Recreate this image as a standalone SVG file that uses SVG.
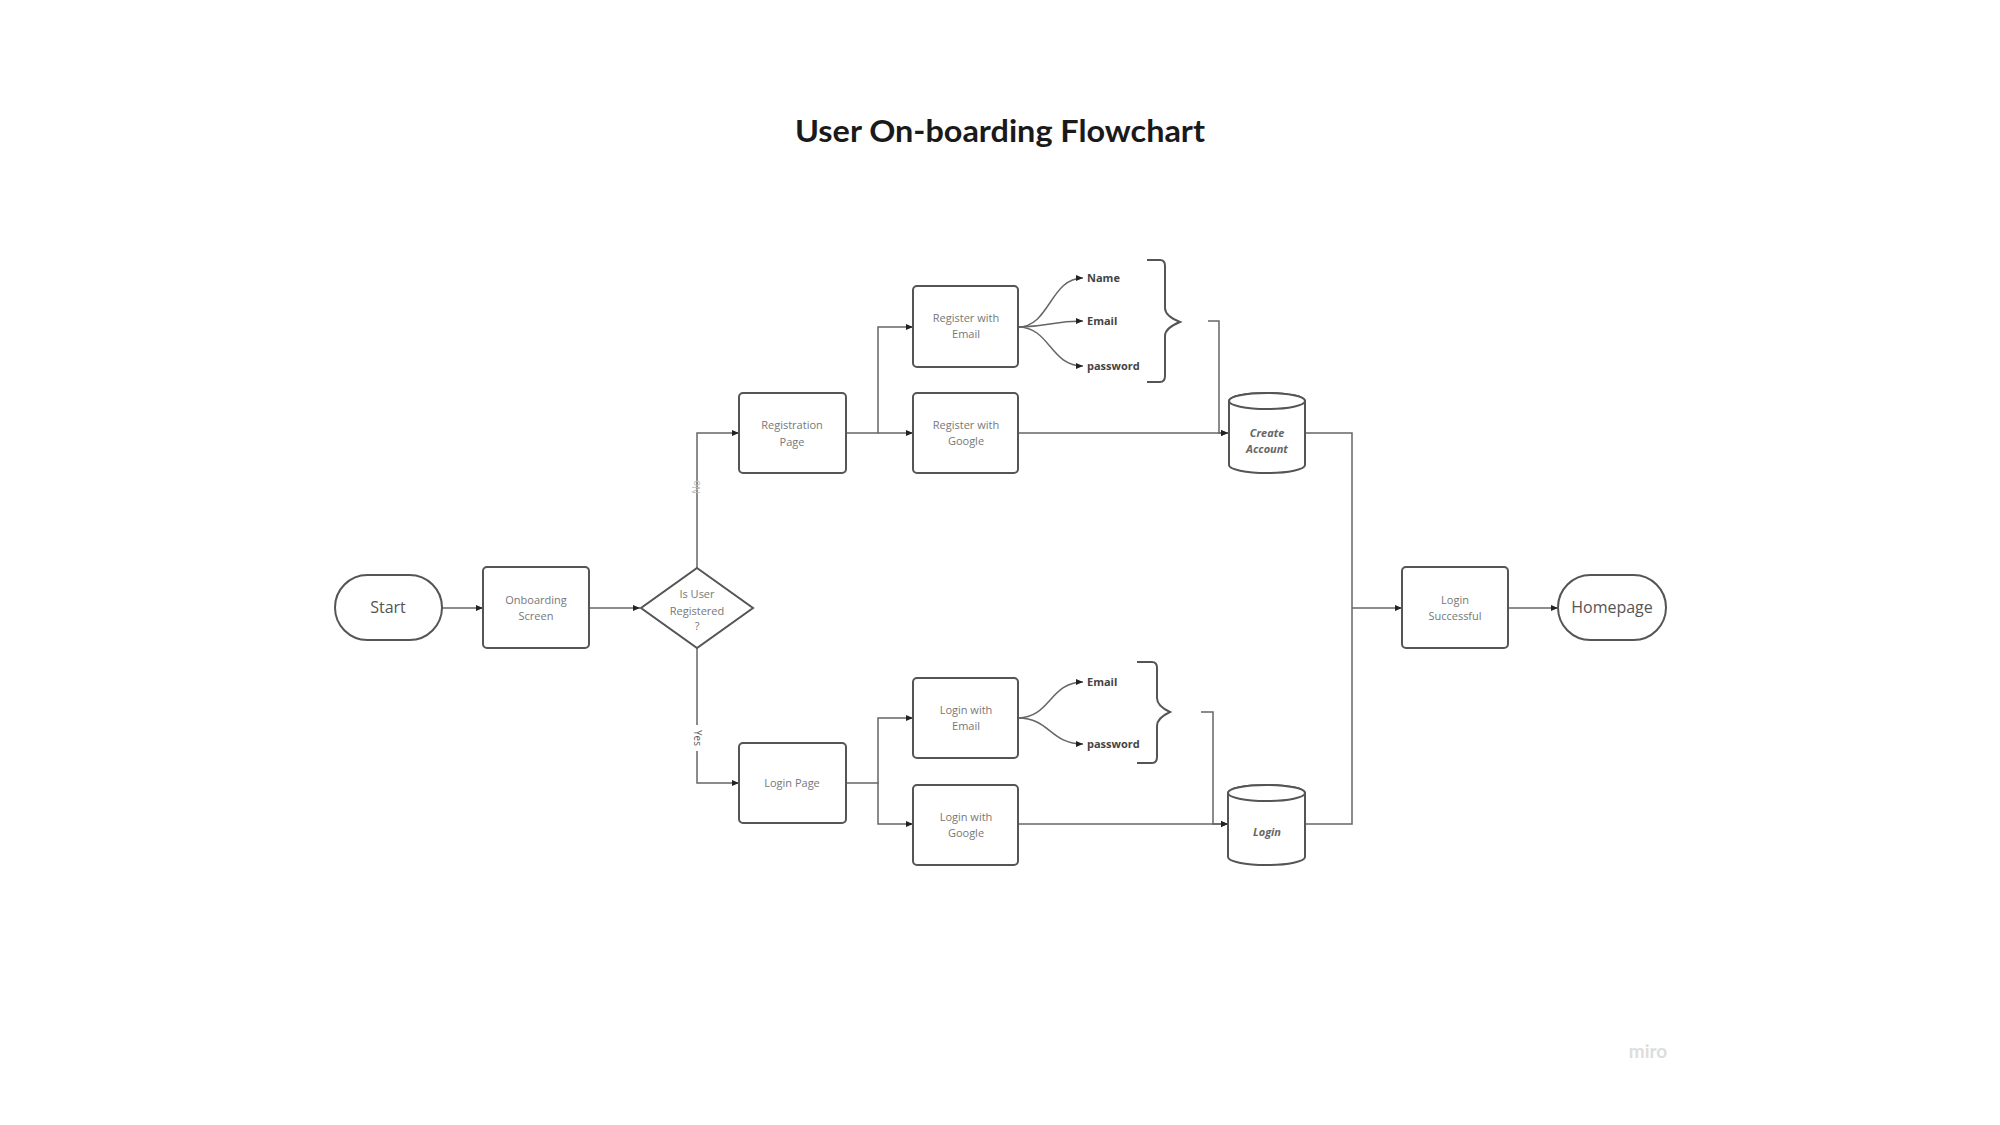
<svg xmlns="http://www.w3.org/2000/svg" width="2000" height="1125" viewBox="0 0 2000 1125">
<defs>
<marker id="ah" markerWidth="8" markerHeight="8" refX="7" refY="4" orient="auto" markerUnits="userSpaceOnUse">
<path d="M0,1 L7,4 L0,7 Z" fill="#222"/>
</marker>
<style>
.box{fill:#fff;stroke:#555;stroke-width:2}
.ln{fill:none;stroke:#666;stroke-width:1.5}
.t{font-family:"Open Sans","Liberation Sans",sans-serif;font-size:11px;fill:#777;text-anchor:middle}
.tb{font-family:"Open Sans","Liberation Sans",sans-serif;font-size:16px;fill:#555;text-anchor:middle}
.lbl{font-family:"Open Sans","Liberation Sans",sans-serif;font-size:11px;font-weight:bold;fill:#444}
.db{font-family:"Open Sans","Liberation Sans",sans-serif;font-size:11px;font-weight:bold;font-style:italic;fill:#666;text-anchor:middle}
</style>
</defs>
<rect width="2000" height="1125" fill="#fff"/>
<text x="1000" y="142" font-family="Lato,'Liberation Sans',sans-serif" font-size="30" font-weight="bold" fill="#1a1a1a" text-anchor="middle" textLength="410" lengthAdjust="spacingAndGlyphs">User On-boarding Flowchart</text>

<g id="connectors">
<path class="ln" d="M442,608 H483" marker-end="url(#ah)"/>
<path class="ln" d="M589,608 H640" marker-end="url(#ah)"/>
<path class="ln" d="M697,568 V433 H739" marker-end="url(#ah)"/>
<path class="ln" d="M697,648 V783 H739" marker-end="url(#ah)"/>
<path class="ln" d="M846,433 H878 V327 H913" marker-end="url(#ah)"/>
<path class="ln" d="M878,433 H913" marker-end="url(#ah)"/>
<path class="ln" d="M846,783 H878 V718 H913" marker-end="url(#ah)"/>
<path class="ln" d="M878,783 V824 H913" marker-end="url(#ah)"/>
<path class="ln" d="M1018,327 C1050,327 1050,278 1083,278" marker-end="url(#ah)"/>
<path class="ln" d="M1018,327 C1050,327 1050,321 1083,321" marker-end="url(#ah)"/>
<path class="ln" d="M1018,327 C1050,327 1050,366 1083,366" marker-end="url(#ah)"/>
<path class="ln" d="M1018,718 C1050,718 1050,682 1083,682" marker-end="url(#ah)"/>
<path class="ln" d="M1018,718 C1050,718 1050,744 1083,744" marker-end="url(#ah)"/>
<path class="ln" d="M1018,433 H1228" marker-end="url(#ah)"/>
<path class="ln" d="M1208,321 H1219 V433 H1228" marker-end="url(#ah)"/>
<path class="ln" d="M1018,824 H1228" marker-end="url(#ah)"/>
<path class="ln" d="M1201,712 H1213 V824 H1228" marker-end="url(#ah)"/>
<path class="ln" d="M1305,433 H1352 V824 H1305"/>
<path class="ln" d="M1352,608 H1402" marker-end="url(#ah)"/>
<path class="ln" d="M1508,608 H1558" marker-end="url(#ah)"/>
<text x="0" y="0" transform="translate(700,487) rotate(-90)" font-family="'Open Sans','Liberation Sans',sans-serif" font-size="10" fill="#bbb" text-anchor="middle">No</text>
<rect x="690" y="725" width="14" height="26" fill="#fff"/>
<text x="0" y="0" transform="translate(694,738) rotate(90)" font-family="'Open Sans','Liberation Sans',sans-serif" font-size="10" fill="#555" text-anchor="middle">Yes</text>
</g>

<g id="start"><rect class="box" x="335" y="575" width="107" height="65" rx="32.5"/><text class="tb" x="388" y="613">Start</text></g>
<g id="onboarding"><rect class="box" x="483" y="567" width="106" height="81" rx="4"/><text class="t" x="536" y="604">Onboarding</text><text class="t" x="536" y="620">Screen</text></g>
<g id="decision"><path class="box" d="M697,568 L753,608 L697,648 L641,608 Z"/><text class="t" x="697" y="598">Is User</text><text class="t" x="697" y="615">Registered</text><text class="t" x="697" y="630">?</text></g>
<g id="registration"><rect class="box" x="739" y="393" width="107" height="80" rx="4"/><text class="t" x="792" y="429">Registration</text><text class="t" x="792" y="446">Page</text></g>
<g id="reg-email"><rect class="box" x="913" y="286" width="105" height="81" rx="4"/><text class="t" x="966" y="322">Register with</text><text class="t" x="966" y="338">Email</text></g>
<g id="reg-google"><rect class="box" x="913" y="393" width="105" height="80" rx="4"/><text class="t" x="966" y="429">Register with</text><text class="t" x="966" y="445">Google</text></g>
<g id="reg-fields">
<text class="lbl" x="1087" y="282">Name</text>
<text class="lbl" x="1087" y="325">Email</text>
<text class="lbl" x="1087" y="370">password</text>
<path class="ln" style="stroke:#555;stroke-width:2" d="M1147,260 H1160 Q1165,260 1165,266 V308 Q1165,316 1180,322 Q1165,328 1165,336 V376 Q1165,382 1160,382 H1147"/>
</g>
<g id="create-account"><path class="box" d="M1229,401 V465 A38,8 0 0 0 1305,465 V401 A38,8 0 0 0 1229,401 Z"/><ellipse class="box" cx="1267" cy="401" rx="38" ry="8"/><text class="db" x="1267" y="437">Create</text><text class="db" x="1267" y="453">Account</text></g>
<g id="login-page"><rect class="box" x="739" y="743" width="107" height="80" rx="4"/><text class="t" x="792" y="787">Login Page</text></g>
<g id="login-email"><rect class="box" x="913" y="678" width="105" height="80" rx="4"/><text class="t" x="966" y="714">Login with</text><text class="t" x="966" y="730">Email</text></g>
<g id="login-google"><rect class="box" x="913" y="785" width="105" height="80" rx="4"/><text class="t" x="966" y="821">Login with</text><text class="t" x="966" y="837">Google</text></g>
<g id="login-fields">
<text class="lbl" x="1087" y="686">Email</text>
<text class="lbl" x="1087" y="748">password</text>
<path class="ln" style="stroke:#555;stroke-width:2" d="M1137,662 H1152 Q1157,662 1157,668 V698 Q1157,706 1170,712 Q1157,718 1157,726 V757 Q1157,763 1152,763 H1137"/>
</g>
<g id="login-db"><path class="box" d="M1228,793 V857 A38.5,8 0 0 0 1305,857 V793 A38.5,8 0 0 0 1228,793 Z"/><ellipse class="box" cx="1266.5" cy="793" rx="38.5" ry="8"/><text class="db" x="1267" y="836">Login</text></g>
<g id="login-successful"><rect class="box" x="1402" y="567" width="106" height="81" rx="4"/><text class="t" x="1455" y="604">Login</text><text class="t" x="1455" y="620">Successful</text></g>
<g id="homepage"><rect class="box" x="1558" y="575" width="108" height="65" rx="32.5"/><text class="tb" x="1612" y="613">Homepage</text></g>
<text x="1648" y="1058" font-family="Lato,'Liberation Sans',sans-serif" font-size="19" font-weight="bold" fill="#ddd" text-anchor="middle">miro</text>
</svg>
